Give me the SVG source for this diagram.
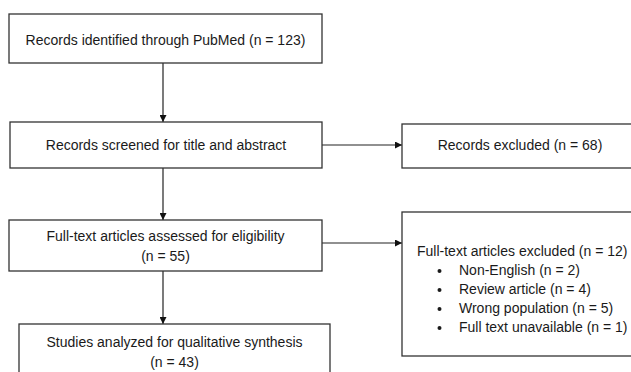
<svg xmlns="http://www.w3.org/2000/svg" width="631" height="372" viewBox="0 0 631 372">
<style>
.box{fill:#fff;stroke:#333;stroke-width:1.3}
.t{font-family:"Liberation Sans",Arial,sans-serif;font-size:14px;fill:#1a1a1a}
.c{text-anchor:middle}
.ln{stroke:#222;stroke-width:1.2;fill:none}
</style>
<defs>
<marker id="ah" viewBox="0 0 10 10" refX="10" refY="5" markerWidth="7" markerHeight="7" markerUnits="userSpaceOnUse" orient="auto">
<path d="M0,0 L10,5 L0,10 z" fill="#111"/>
</marker>
</defs>
<rect width="631" height="372" fill="#fff"/>
<g id="connectors">
<line class="ln" x1="163" y1="63" x2="163" y2="122" marker-end="url(#ah)"/>
<line class="ln" x1="322" y1="145" x2="402" y2="145" marker-end="url(#ah)"/>
<line class="ln" x1="163" y1="168" x2="163" y2="220" marker-end="url(#ah)"/>
<line class="ln" x1="322" y1="243" x2="402" y2="243" marker-end="url(#ah)"/>
<line class="ln" x1="163" y1="271" x2="163" y2="324" marker-end="url(#ah)"/>
</g>
<g id="identified">
<rect class="box" x="9" y="14" width="313" height="49"/>
<text class="t c" x="165.5" y="45">Records identified through PubMed (n = 123)</text>
</g>
<g id="screened">
<rect class="box" x="10" y="122" width="312" height="46"/>
<text class="t c" x="166" y="150">Records screened for title and abstract</text>
</g>
<g id="excluded">
<rect class="box" x="402" y="124" width="238" height="44"/>
<text class="t c" x="520" y="150">Records excluded (n = 68)</text>
</g>
<g id="fulltext">
<rect class="box" x="9" y="220" width="313" height="51"/>
<text class="t c" x="165.5" y="241">Full-text articles assessed for eligibility</text>
<text class="t c" x="165.5" y="261">(n = 55)</text>
</g>
<g id="ftexcluded">
<rect class="box" x="402" y="212" width="238" height="144"/>
<text class="t" x="417" y="256">Full-text articles excluded (n = 12)</text>
<circle cx="439.5" cy="271" r="2" fill="#1a1a1a"/>
<text class="t" x="459" y="275">Non-English (n = 2)</text>
<circle cx="439.5" cy="290" r="2" fill="#1a1a1a"/>
<text class="t" x="459" y="294">Review article (n = 4)</text>
<circle cx="439.5" cy="309" r="2" fill="#1a1a1a"/>
<text class="t" x="459" y="313">Wrong population (n = 5)</text>
<circle cx="439.5" cy="328" r="2" fill="#1a1a1a"/>
<text class="t" x="459" y="332">Full text unavailable (n = 1)</text>
</g>
<g id="analyzed">
<rect class="box" x="19" y="324" width="311" height="60"/>
<text class="t c" x="174.5" y="347">Studies analyzed for qualitative synthesis</text>
<text class="t c" x="174.5" y="367">(n = 43)</text>
</g>
</svg>
